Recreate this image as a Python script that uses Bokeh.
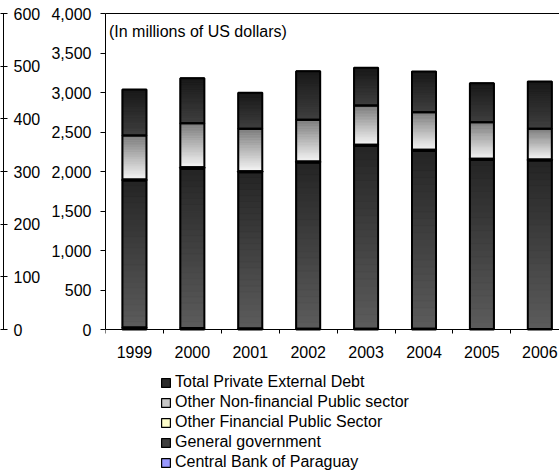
import numpy as np
from bokeh.plotting import figure
from bokeh.models import (Range1d, LinearAxis, FixedTicker, NumeralTickFormatter,
                          Legend, LegendItem, Label)
from bokeh.layouts import row
from bokeh.embed import file_html
from bokeh.resources import INLINE

# ---------------- data (millions of US dollars) ----------------
years = ["1999", "2000", "2001", "2002", "2003", "2004", "2005", "2006"]
central_bank = [25, 20, 12, 10, 10, 8, 6, 6]
general_government = [1862, 2016, 1978, 2103, 2315, 2253, 2143, 2134]
other_financial = [12, 18, 14, 14, 15, 14, 12, 12]
other_nonfinancial = [557, 557, 536, 527, 495, 476, 463, 389]
private_debt = [582, 570, 456, 616, 478, 515, 494, 598]
left_ticks = [0, 500, 1000, 1500, 2000, 2500, 3000, 3500, 4000]
outer_ticks = [0, 100, 200, 300, 400, 500, 600]
title_text = "(In millions of US dollars)"

FONT = "Liberation Sans"
FS = "16px"
BW = 0.415
n = len(years)
xs = np.arange(n) + 0.5

# ---------------- layout geometry (pixels) ----------------
H = 472
TOP = 13            # frame top
AXIS_PX = 316       # pixels between 0 and 4000 on the value axis
BELOW = H - TOP - AXIS_PX   # room below the zero line (x labels + legend)
W_OUT = 46          # width of the small outer-axis figure
FRAME_LEFT = 105
W_MAIN = 559 - W_OUT
Y_MAX = 4000
Y_MIN = -Y_MAX * BELOW / AXIS_PX
O_MAX = 600
O_MIN = -O_MAX * BELOW / AXIS_PX

# stacking
series = [central_bank, general_government, other_financial, other_nonfinancial, private_debt]
bottoms = []
acc = np.zeros(n)
for s in series:
    bottoms.append(acc.copy())
    acc = acc + np.array(s, dtype=float)

# ---------------- main figure ----------------
p = figure(width=W_MAIN, height=H, x_range=Range1d(0, 7.84), y_range=Range1d(Y_MIN, Y_MAX),
           toolbar_location=None, output_backend="svg",
           min_border_left=FRAME_LEFT - W_OUT, min_border_right=0,
           min_border_top=TOP, min_border_bottom=0)
p.outline_line_color = None
p.grid.visible = False
p.background_fill_color = "white"
p.border_fill_color = "white"


def hexc(c):
    return "#%02x%02x%02x" % tuple(int(round(v)) for v in c)


def gradient(bot, top, c_top, c_bot, nsl=26):
    gx, gb, gt, gc = [], [], [], []
    for i in range(n):
        edges = np.linspace(top[i], bot[i], nsl + 1)
        for k in range(nsl):
            f = (k + 0.5) / nsl
            c = [c_top[j] * (1 - f) + c_bot[j] * f for j in range(3)]
            gx.append(xs[i]); gt.append(edges[k]); gb.append(edges[k + 1]); gc.append(hexc(c))
    p.vbar(x=gx, bottom=gb, top=gt, width=BW, fill_color=gc, line_color=gc, line_width=0.6)


specs = [
    ("Central Bank of Paraguay", "#9999ff", None),
    ("General government", "#404040", ((0x24, 0x24, 0x24), (0x5c, 0x5c, 0x5c))),
    ("Other Financial Public Sector", "#ffffcc", None),
    ("Other Non-financial Public sector", "#c8c8c8", ((0x7a, 0x7a, 0x7a), (0xf5, 0xf5, 0xf5))),
    ("Total Private External Debt", "#2c2c2c", ((0x18, 0x18, 0x18), (0x40, 0x40, 0x40))),
]

base_renderers = {}
for (name, col, grad), s, b in zip(specs, series, bottoms):
    top = b + np.array(s, dtype=float)
    r = p.vbar(x=xs, bottom=b, top=top, width=BW, fill_color=col,
               line_color="black", line_width=1.2)
    base_renderers[name] = r
    if grad is not None:
        gradient(b, top, grad[0], grad[1])

# outlines on top
for s, b in zip(series, bottoms):
    top = b + np.array(s, dtype=float)
    p.vbar(x=xs, bottom=b, top=top, width=BW, fill_color=None,
           line_color="black", line_width=2)

# title inside the plot
p.add_layout(Label(x=0.06, y=3772, text=title_text, text_font=FONT, text_font_size=FS,
                   text_baseline="middle", text_color="black"))

# x axis at zero: labels at centres, ticks at category boundaries
xa = p.xaxis[0]
xa.fixed_location = 0
xa.ticker = FixedTicker(ticks=list(xs), minor_ticks=list(range(n + 1)))
xa.major_label_overrides = {float(x): y for x, y in zip(xs, years)}
xa.major_tick_in = 0
xa.major_tick_out = 0
xa.minor_tick_in = 0
xa.minor_tick_out = 4
xa.minor_tick_line_color = "black"
xa.axis_line_color = "black"
xa.major_label_standoff = 12
xa.major_label_text_font = FONT
xa.major_label_text_font_size = FS
xa.major_label_text_color = "black"

ya = p.yaxis[0]
ya.bounds = (0, Y_MAX)
ya.ticker = FixedTicker(ticks=left_ticks)
ya.formatter = NumeralTickFormatter(format="0,0")
ya.major_tick_in = 0
ya.major_tick_out = 5
ya.minor_tick_line_color = None
ya.major_tick_line_color = "black"
ya.axis_line_color = "black"
ya.major_label_standoff = 9
ya.major_label_text_font = FONT
ya.major_label_text_font_size = FS
ya.major_label_text_color = "black"

top_axis = LinearAxis(ticker=FixedTicker(ticks=[]), major_tick_in=0, major_tick_out=0,
                      major_label_standoff=0, minor_tick_line_color=None,
                      axis_line_color="black")
p.add_layout(top_axis, "above")

legend_order = ["Total Private External Debt", "Other Non-financial Public sector",
                "Other Financial Public Sector", "General government", "Central Bank of Paraguay"]
legend = Legend(items=[LegendItem(label=nm, renderers=[base_renderers[nm]]) for nm in legend_order],
                location=(55, 0), orientation="vertical",
                border_line_color=None, background_fill_alpha=0,
                label_text_font=FONT, label_text_font_size=FS, label_text_color="black",
                glyph_width=11, glyph_height=11, label_standoff=4, spacing=0,
                padding=0, margin=0, label_height=20)
p.add_layout(legend, "center")

# ---------------- outer (secondary) axis figure ----------------
pa = figure(width=W_OUT, height=H, x_range=Range1d(0, 1), y_range=Range1d(O_MIN, O_MAX),
            y_axis_location="right", x_axis_location=None,
            toolbar_location=None, output_backend="svg",
            min_border_left=2, min_border_right=W_OUT - 3,
            min_border_top=TOP, min_border_bottom=0)
pa.outline_line_color = None
pa.grid.visible = False
oa = pa.yaxis[0]
oa.bounds = (0, O_MAX)
oa.ticker = FixedTicker(ticks=outer_ticks)
oa.major_tick_in = 3
oa.major_tick_out = 4
oa.minor_tick_line_color = None
oa.major_tick_line_color = "black"
oa.axis_line_color = "black"
oa.major_label_standoff = 6
oa.major_label_text_font = FONT
oa.major_label_text_font_size = FS
oa.major_label_text_color = "black"

layout = row(pa, p)
open("out.html", "w").write(file_html(layout, INLINE))
